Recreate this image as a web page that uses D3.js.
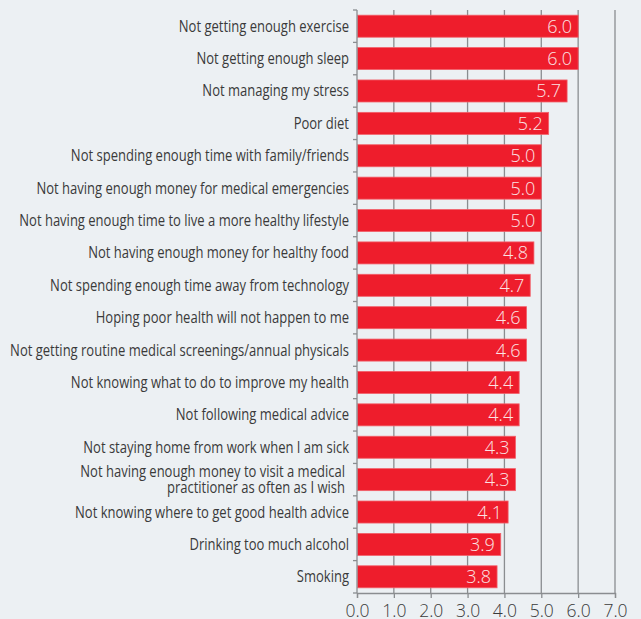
<!DOCTYPE html>
<html>
<head>
<meta charset="utf-8">
<script src="https://cdn.jsdelivr.net/npm/d3@7"></script>
<style>
  html, body { margin: 0; padding: 0; background: #ecf0f3; }
  svg { display: block; }
</style>
</head>
<body>
<div id="chart"></div>
<script>
// Survey items (each entry may hold several text lines) and their mean scores
const categories = [
  ["Not getting enough exercise"],
  ["Not getting enough sleep"],
  ["Not managing my stress"],
  ["Poor diet"],
  ["Not spending enough time with family/friends"],
  ["Not having enough money for medical emergencies"],
  ["Not having enough time to live a more healthy lifestyle"],
  ["Not having enough money for healthy food"],
  ["Not spending enough time away from technology"],
  ["Hoping poor health will not happen to me"],
  ["Not getting routine medical screenings/annual physicals"],
  ["Not knowing what to do to improve my health"],
  ["Not following medical advice"],
  ["Not staying home from work when I am sick"],
  ["Not having enough money to visit a medical", "practitioner as often as I wish"],
  ["Not knowing where to get good health advice"],
  ["Drinking too much alcohol"],
  ["Smoking"]
];
const values = [6.0, 6.0, 5.7, 5.2, 5.0, 5.0, 5.0, 4.8, 4.7, 4.6, 4.6, 4.4, 4.4, 4.3, 4.3, 4.1, 3.9, 3.8];
const xTicks = [0, 1, 2, 3, 4, 5, 6, 7];

const width = 641, height = 619;
const margin = { top: 10, right: 26, bottom: 26, left: 357 };

const svg = d3.select("#chart").append("svg")
  .attr("width", width).attr("height", height);

svg.append("rect").attr("width", width).attr("height", height).attr("fill", "#ecf0f3");

const x = d3.scaleLinear().domain([0, 7]).range([margin.left, width - margin.right]);
const y = d3.scaleBand().domain(d3.range(values.length))
  .range([margin.top, height - margin.bottom]).paddingInner(0.32).paddingOuter(0.16);

const axisColor = "#8a8d90";
const textColor = "#3a3a3a";

// vertical gridlines
svg.append("g").selectAll("line").data(xTicks.slice(1)).join("line")
  .attr("x1", d => x(d)).attr("x2", d => x(d))
  .attr("y1", margin.top).attr("y2", height - margin.bottom)
  .attr("stroke", axisColor).attr("stroke-width", 1.3);

// bars
svg.append("g").selectAll("rect").data(values).join("rect")
  .attr("x", x(0) + 0.5)
  .attr("y", (d, i) => y(i))
  .attr("width", d => x(d) - x(0) - 0.5)
  .attr("height", y.bandwidth())
  .attr("fill", "#ee1d2c")
  .attr("stroke", "#f2606a").attr("stroke-width", 0.8);

// value labels inside bar ends
svg.append("g").selectAll("text").data(values).join("text")
  .attr("x", d => x(d) - 6)
  .attr("y", (d, i) => y(i) + y.bandwidth() / 2 + 6.5)
  .attr("text-anchor", "end")
  .attr("fill", "#fbe3e4")
  .style("font-family", "'Open Sans', sans-serif")
  .style("font-weight", 300)
  .style("font-size", "18px")
  .text(d => d.toFixed(1));

// left axis with ticks at band boundaries
svg.append("line")
  .attr("x1", x(0)).attr("x2", x(0))
  .attr("y1", margin.top).attr("y2", height - margin.bottom)
  .attr("stroke", axisColor).attr("stroke-width", 1.3);
const bounds = d3.range(values.length + 1).map(i =>
  i === 0 ? margin.top : y(i - 1) + y.bandwidth() + y.step() * y.paddingInner() / 2);
svg.append("g").selectAll("line").data(bounds).join("line")
  .attr("x1", x(0) - 4).attr("x2", x(0))
  .attr("y1", d => d).attr("y2", d => d)
  .attr("stroke", axisColor).attr("stroke-width", 1.3);

// category labels, set in a horizontally condensed face
const labelRight = x(0) - 8;
const labels = svg.append("g").attr("class", "cat-labels");
const lab = labels.selectAll("text").data(categories).join("text")
  .attr("text-anchor", "end")
  .attr("fill", textColor)
  .style("font-family", "'Open Sans', sans-serif")
  .style("font-size", "16px");
lab.each(function (lines, i) {
  const t = d3.select(this);
  const cy = y(i) + y.bandwidth() / 2;
  const lh = 16.5;
  lines.forEach((s, k) => {
    t.append("tspan")
      .attr("x", lines.length > 1 ? -5 : 0)
      .attr("y", cy + 5.5 + (k - (lines.length - 1) / 2) * lh)
      .text(s);
  });
});
let widest = 0;
lab.each(function () { widest = Math.max(widest, this.getBBox().width); });
const squeeze = 339 / widest;
labels.attr("transform", `translate(${labelRight},0) scale(${squeeze},1)`);

// bottom axis
const xAxis = d3.axisBottom(x).tickValues(xTicks).tickFormat(d3.format(".1f")).tickSize(5).tickPadding(7);
const ax = svg.append("g").attr("transform", `translate(0,${height - margin.bottom})`).call(xAxis);
ax.select(".domain").attr("stroke", axisColor).attr("stroke-width", 1.3);
ax.selectAll(".tick line").attr("stroke", axisColor).attr("stroke-width", 1.3);
ax.selectAll(".tick text")
  .attr("fill", textColor)
  .style("font-family", "'Open Sans', sans-serif")
  .style("font-weight", 300)
  .style("font-size", "17.5px");
</script>
</body>
</html>
